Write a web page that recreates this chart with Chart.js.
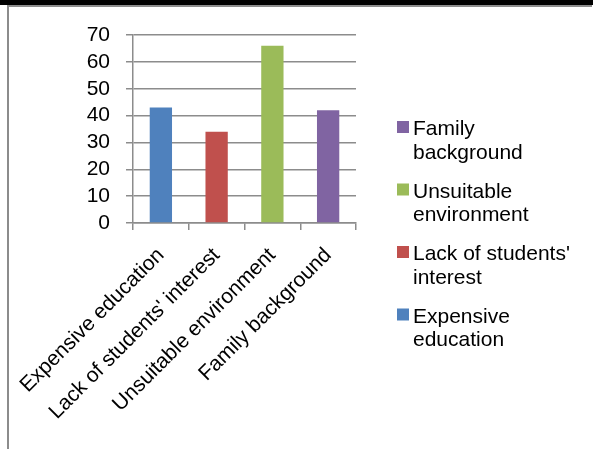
<!DOCTYPE html>
<html>
<head>
<meta charset="utf-8">
<script src="https://cdn.jsdelivr.net/npm/chart.js@4.4.1/dist/chart.umd.min.js"></script>
<style>
  html, body { margin: 0; padding: 0; background: #fff; }
  #wrap { position: relative; width: 593px; height: 450px; overflow: hidden; }
  #c { position: absolute; left: 0; top: 0; }
  .topbar { position: absolute; left: 0; top: 0; width: 593px; height: 5px; background: #000; }
  .topline { position: absolute; left: 7px; top: 5px; width: 585px; height: 2px; background: #8c8c8c; }
  .leftline { position: absolute; left: 7px; top: 5px; width: 2px; height: 444px; background: #8c8c8c; }
</style>
</head>
<body>
<div id="wrap">
  <canvas id="c" width="593" height="450"></canvas>
  <div class="topbar"></div>
  <div class="topline"></div>
  <div class="leftline"></div>
</div>
<script>
const categories = ["Expensive education", "Lack of students' interest", "Unsuitable environment", "Family background"];
const values = [43, 34, 66, 42];
const barColors = ["#4F81BD", "#C0504D", "#9BBB59", "#8064A2"];
const yTicks = [0, 10, 20, 30, 40, 50, 60, 70];

const FONT = "'Liberation Sans', Arial, sans-serif";
const FONT_SIZE = 21;

const legendPlugin = {
  id: 'customLegend',
  afterDraw(chart) {
    const ctx = chart.ctx;
    ctx.save();
    ctx.font = FONT_SIZE + "px " + FONT;
    ctx.textBaseline = 'alphabetic';
    ctx.textAlign = 'left';
    const boxX = 397, textX = 413, maxW = 165;
    let baseline = 135;
    for (let k = categories.length - 1; k >= 0; k--) {
      const words = categories[k].split(' ');
      const lines = [];
      let cur = '';
      for (const w of words) {
        const t = cur ? cur + ' ' + w : w;
        if (ctx.measureText(t).width > maxW && cur) { lines.push(cur); cur = w; }
        else cur = t;
      }
      if (cur) lines.push(cur);
      ctx.fillStyle = barColors[k];
      ctx.fillRect(boxX, baseline - 14, 12, 12);
      ctx.fillStyle = '#000';
      lines.forEach((ln, i) => ctx.fillText(ln, textX, baseline + i * 23.5));
      baseline += 62.5;
    }
    ctx.restore();
  }
};

new Chart(document.getElementById('c'), {
  type: 'bar',
  data: {
    labels: categories,
    datasets: [{
      data: values,
      backgroundColor: barColors,
      borderWidth: 0,
      categoryPercentage: 0.4,
      barPercentage: 1.0
    }]
  },
  options: {
    responsive: false,
    animation: false,
    devicePixelRatio: 1,
    layout: { padding: { left: 0, top: 35, right: 237, bottom: 0 } },
    plugins: { legend: { display: false }, tooltip: { enabled: false } },
    scales: {
      x: {
        afterFit(scale) { scale.height = 227; scale.paddingLeft = 0; scale.paddingRight = 0; },
        grid: {
          display: true,
          drawOnChartArea: false,
          drawTicks: true,
          tickLength: 7,
          color: '#8c8c8c',
          lineWidth: 1.5,
          offset: true
        },
        border: { display: true, color: '#8c8c8c', width: 1.5 },
        ticks: {
          color: '#000',
          font: { family: FONT, size: 21 },
          minRotation: 45,
          maxRotation: 45,
          padding: 13,
          autoSkip: false
        }
      },
      y: {
        min: 0,
        max: 70,
        afterFit(scale) { scale.width = 133; scale.paddingTop = 0; scale.paddingBottom = 0; },
        afterBuildTicks(scale) { scale.ticks = yTicks.map(v => ({ value: v })); },
        grid: {
          color: '#8c8c8c',
          lineWidth: 1.5,
          tickLength: 7,
          drawTicks: true
        },
        border: { display: true, color: '#8c8c8c', width: 1.5 },
        ticks: {
          color: '#000',
          font: { family: FONT, size: FONT_SIZE },
          padding: 16,
          autoSkip: false
        }
      }
    }
  },
  plugins: [legendPlugin]
});
</script>
</body>
</html>
